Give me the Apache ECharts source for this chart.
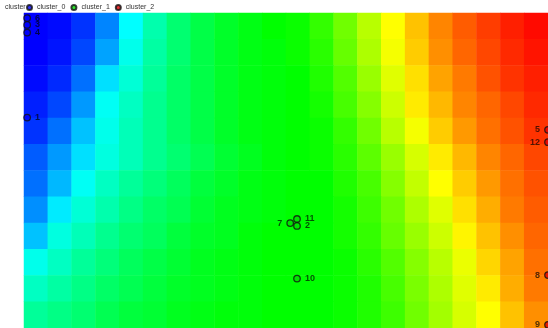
<!DOCTYPE html>
<html><head><meta charset="utf-8">
<script src="https://cdn.jsdelivr.net/npm/echarts@6/dist/echarts.min.js"></script>
<style>html,body{margin:0;padding:0;background:#fff}#c{width:548px;height:328px}</style>
</head><body><div id="c"></div>
<script>
// Background field (rows top -> bottom, columns left -> right)
const fieldRows = [
  [0,1,5,13,25,33,39,43,46,48,50,51,55,61,68,75,81,87,91,94,97,99],
  [0,2,7,16,27,34,39,43,46,48,49,51,54,60,67,74,80,86,90,93,96,98],
  [1,4,11,22,29,35,40,43,46,48,49,50,53,58,65,72,78,84,88,92,95,97],
  [3,7,15,26,31,36,40,43,46,48,49,50,52,57,63,70,77,82,87,90,93,96],
  [5,11,19,27,32,36,40,43,46,48,49,50,51,55,61,68,74,80,85,89,92,95],
  [9,15,22,28,32,36,39,42,45,47,49,50,51,54,59,65,71,77,82,87,90,93],
  [11,18,26,31,35,38,41,44,46,48,49,50,50,53,57,63,69,75,80,85,89,92],
  [14,23,29,33,37,40,42,45,47,48,49,50,50,52,56,61,67,72,78,83,88,91],
  [19,28,32,36,39,41,44,46,47,49,50,50,50,52,55,60,65,70,76,81,86,90],
  [27,31,35,38,41,43,45,47,48,49,50,50,50,51,54,58,63,68,73,79,84,89],
  [31,34,37,40,42,44,46,47,48,49,50,50,50,51,53,57,62,67,72,77,83,88],
  [35,37,39,42,44,45,47,48,49,49,50,50,50,51,53,56,61,66,71,75,81,86]
];
const seriesNames = ['cluster_0','cluster_1','cluster_2'];
const seriesColors = ['#0000ff','#00e000','#e00000'];
// points: [x, y, label]
const cluster0 = [[0.6,98.4,'6'],[0.6,96.2,'3'],[0.6,93.8,'4'],[0.6,66.8,'1']];
const cluster1 = [[50.8,33.3,'7'],[52.1,34.6,'11'],[52.1,32.4,'2'],[52.1,15.7,'10']];
const cluster2 = [[100,62.9,'5'],[100,59.0,'12'],[100,16.8,'8'],[100,1.0,'9']];

const heat = [];
fieldRows.forEach((row, j) => row.forEach((v, i) => heat.push([i, j, v])));

const labelBase = {show:true, fontSize:9, fontWeight:'bold', color:'rgba(0,0,0,0.85)',
  fontFamily:'Liberation Sans, Arial, sans-serif', distance:4,
  formatter: p => p.data.value[2]};

function pts(arr, posFn){
  return arr.map(d => ({value:d, label:{position:posFn(d)}}));
}

const chart = echarts.init(document.getElementById('c'), null, {renderer:'canvas'});
chart.setOption({
  animation:false,
  textStyle:{fontFamily:'Liberation Sans, Arial, sans-serif'},
  title:{text:'cluster', left:5, top:4, padding:0,
    textStyle:{fontSize:7, fontWeight:'normal', color:'#333'}},
  legend:{data:seriesNames, left:26, top:4, padding:0, itemWidth:5, itemHeight:5, itemGap:5,
    icon:'circle', textStyle:{fontSize:7, color:'#333'}},
  grid:[
    {left:24, top:13, right:0, bottom:0},
    {left:24, top:13, right:0, bottom:0}
  ],
  xAxis:[
    {type:'category', gridIndex:0, data:fieldRows[0].map((_,i)=>i), show:false},
    {type:'value', gridIndex:1, min:0, max:100, show:false}
  ],
  yAxis:[
    {type:'category', gridIndex:0, data:fieldRows.map((_,j)=>j), inverse:true, show:false},
    {type:'value', gridIndex:1, min:0, max:100, show:false}
  ],
  visualMap:{type:'continuous', show:false, min:0, max:100, seriesIndex:0, dimension:2,
    inRange:{color:['#0000ff','#00ffff','#00ff00','#ffff00','#ff0000']}},
  series:[
    {type:'heatmap', xAxisIndex:0, yAxisIndex:0, data:heat, itemStyle:{borderWidth:0}},
    {type:'scatter', name:'cluster_0', xAxisIndex:1, yAxisIndex:1, symbolSize:6.5, clip:false,
      itemStyle:{color:seriesColors[0], borderColor:'#111', borderWidth:1.3},
      label:labelBase, data:pts(cluster0, d=>'right')},
    {type:'scatter', name:'cluster_1', xAxisIndex:1, yAxisIndex:1, symbolSize:6.5, clip:false,
      itemStyle:{color:seriesColors[1], borderColor:'#111', borderWidth:1.3},
      label:labelBase, data:pts(cluster1, d=>d[2]==='7'?'left':'right')},
    {type:'scatter', name:'cluster_2', xAxisIndex:1, yAxisIndex:1, symbolSize:6.5, clip:false,
      itemStyle:{color:seriesColors[2], borderColor:'#111', borderWidth:1.3},
      label:labelBase, data:pts(cluster2, d=>'left')}
  ]
});
</script></body></html>
